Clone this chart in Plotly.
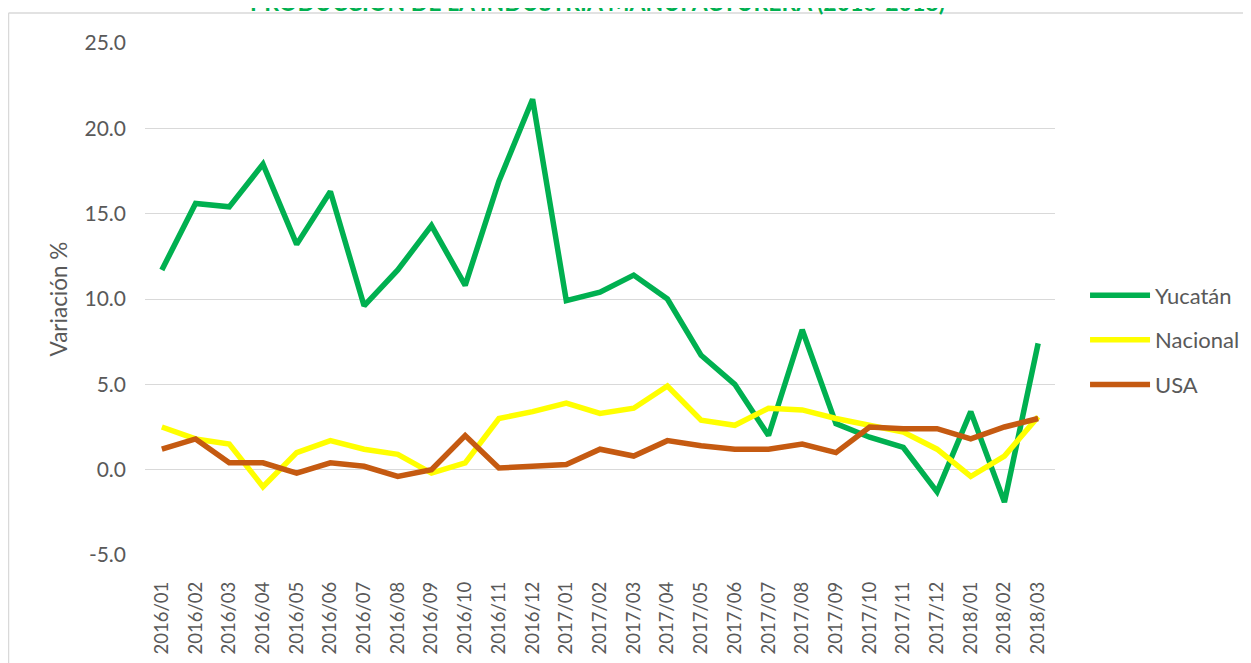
import plotly.graph_objects as go

months = ["2016/01","2016/02","2016/03","2016/04","2016/05","2016/06","2016/07","2016/08","2016/09",
          "2016/10","2016/11","2016/12","2017/01","2017/02","2017/03","2017/04","2017/05","2017/06",
          "2017/07","2017/08","2017/09","2017/10","2017/11","2017/12","2018/01","2018/02","2018/03"]

yucatan = [11.7, 15.6, 15.4, 17.9, 13.2, 16.3, 9.6, 11.7, 14.3, 10.8, 16.9, 21.7, 9.9,
           10.4, 11.4, 10.0, 6.7, 5.0, 2.0, 8.2, 2.7, 1.9, 1.3, -1.3, 3.4, -1.9, 7.4]
nacional = [2.5, 1.8, 1.5, -1.0, 1.0, 1.7, 1.2, 0.9, -0.2, 0.4, 3.0, 3.4, 3.9,
            3.3, 3.6, 4.9, 2.9, 2.6, 3.6, 3.5, 3.0, 2.6, 2.2, 1.2, -0.4, 0.8, 3.1]
usa = [1.2, 1.8, 0.4, 0.4, -0.2, 0.4, 0.2, -0.4, 0.0, 2.0, 0.1, 0.2, 0.3,
       1.2, 0.8, 1.7, 1.4, 1.2, 1.2, 1.5, 1.0, 2.5, 2.4, 2.4, 1.8, 2.5, 3.0]

y_ticks = [-5, 0, 5, 10, 15, 20, 25]
y_tick_labels = ["-5.0", "0.0", "5.0", "10.0", "15.0", "20.0", "25.0"]

series = [("Yucatán", yucatan, "#00B050"), ("Nacional", nacional, "#FFFF00"), ("USA", usa, "#C55A11")]

fig = go.Figure()
for name, vals, col in series:
    fig.add_trace(go.Scatter(x=months, y=vals, name=name, mode="lines",
                             line=dict(color=col, width=5.5), legendgroup=name))

FONT = "Lato, Open Sans, sans-serif"
fig.update_layout(
    width=1251, height=663,
    margin=dict(l=137, r=204, t=35, b=116, autoexpand=False),
    paper_bgcolor="white", plot_bgcolor="white",
    font=dict(family=FONT, color="#595959", size=20),
    legend=dict(x=1.033, y=0.42, xanchor="left", yanchor="middle", tracegroupgap=13,
                itemwidth=60, font=dict(size=22, color="#595959"), bgcolor="rgba(0,0,0,0)"),
    showlegend=True,
)
fig.add_annotation(text="<b>PRODUCCIÓN DE LA INDUSTRIA MANUFACTURERA (2016-2018)</b>",
                   xref="paper", yref="paper", x=0.497, y=1.049, xanchor="center", yanchor="bottom",
                   showarrow=False, font=dict(family=FONT, size=23, color="#00B050"))
fig.update_xaxes(type="category", tickangle=-90, showgrid=False, showline=False,
                 ticks="", tickfont=dict(size=18.5, color="#595959"), range=[-0.5, 26.5],
                 automargin=False, ticklabelstandoff=22)
fig.update_yaxes(range=[-5, 25], tickvals=y_ticks, ticktext=y_tick_labels,
                 showgrid=True, gridcolor="#D9D9D9",
                 gridwidth=1, zeroline=False, showline=False, ticks="",
                 tickfont=dict(size=21, color="#595959"), automargin=False, ticklabelstandoff=18,
                 title=dict(text="Variación %", font=dict(size=22.5, color="#595959"), standoff=10))
# outer chart-area border (top and left edges visible)
fig.add_shape(type="line", xref="paper", yref="paper", x0=-0.150, x1=1.3, y0=1.0586, y1=1.0586,
              line=dict(color="#D9D9D9", width=1.5))
fig.add_shape(type="line", xref="paper", yref="paper", x0=-0.150, x1=-0.150, y0=-0.3, y1=1.0586,
              line=dict(color="#D9D9D9", width=1.5))

fig.write_html("out.html")
